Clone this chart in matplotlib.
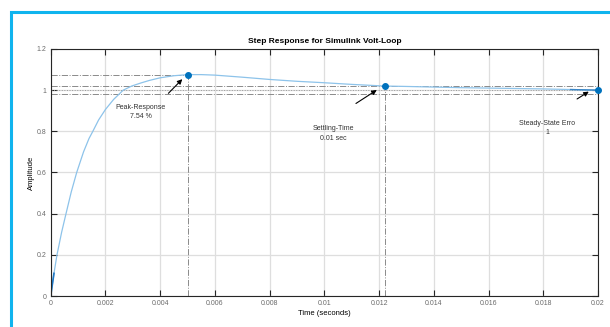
import numpy as np
import matplotlib
matplotlib.use('Agg')
import matplotlib.pyplot as plt
from matplotlib.patches import Rectangle

plt.rcParams['font.family'] = ['Liberation Sans', 'DejaVu Sans']

# step response (time in s, amplitude)
t = [0, 0.00012, 0.00023, 0.0003, 0.0004, 0.00056, 0.00075, 0.00095, 0.0012,
     0.0014, 0.00154, 0.00175, 0.002, 0.0023, 0.00265, 0.00296, 0.0033, 0.0036,
     0.004, 0.0045, 0.005, 0.0055, 0.006, 0.007, 0.008, 0.009, 0.01, 0.011,
     0.0122, 0.013, 0.014, 0.015, 0.016, 0.017, 0.018, 0.019, 0.02]
y = [0, 0.11, 0.20, 0.245, 0.31, 0.40, 0.505, 0.60, 0.70,
     0.765, 0.80, 0.855, 0.906, 0.955, 1.0, 1.02, 1.035, 1.047,
     1.06, 1.07, 1.0754, 1.0755, 1.073, 1.063, 1.052, 1.043, 1.036, 1.028,
     1.02, 1.018, 1.015, 1.012, 1.010, 1.008, 1.006, 1.003, 1.0]

peak_t, peak_y = 0.005, 1.0754
settle_t, settle_y = 0.0122, 1.02
final_t, final_y = 0.02, 1.0
band = [0.98, 1.02]

xticks = [0, 0.002, 0.004, 0.006, 0.008, 0.01, 0.012, 0.014, 0.016, 0.018, 0.02]
xticklabels = ['0', '0.002', '0.004', '0.006', '0.008', '0.01', '0.012', '0.014', '0.016', '0.018', '0.02']
yticks = [0, 0.2, 0.4, 0.6, 0.8, 1.0, 1.2]
yticklabels = ['0', '0.2', '0.4', '0.6', '0.8', '1', '1.2']

fig = plt.figure(figsize=(6.1, 3.27), dpi=100)
ax = fig.add_axes([0.0831, 0.0948, 0.8972, 0.7554])

# cyan frame of the screenshot
fig.add_artist(Rectangle((11 / 610, -0.2), 1.5, (327 - 12) / 327 + 0.2,
                         transform=fig.transFigure, fill=False,
                         edgecolor='#10b4ee', linewidth=2.2, clip_on=False))

ax.grid(True, color='#dedede', linewidth=0.9)
ax.set_axisbelow(True)

# reference lines
ref = dict(color='#8a8a8a', linewidth=0.7, linestyle='-.')
ax.plot([0, peak_t], [peak_y, peak_y], **ref)
ax.plot([peak_t, peak_t], [0, peak_y], **ref)
ax.plot([settle_t, settle_t], [0, settle_y], **ref)
for b in band:
    ax.plot([0, 0.02], [b, b], **ref)
ax.plot([0, 0.02], [1, 1], color='#9a9a9a', linewidth=0.7, linestyle=':')

# response curve
ax.plot(t, y, color='#8dc3ea', linewidth=0.9)
ax.plot(t[:2], y[:2], color='#1f77c4', linewidth=1.2)
ax.plot(t[-2:], y[-2:], color='#3a86c6', linewidth=1.0)

ax.plot([peak_t, settle_t, final_t], [peak_y, settle_y, final_y], 'o',
        color='#0072BD', markersize=4, clip_on=False, zorder=5)

akw = dict(arrowstyle='-|>', color='black', lw=0.8, mutation_scale=7)
ax.annotate('', xy=(0.00488, 1.063), xytext=(0.00423, 0.975), arrowprops=akw)
ax.annotate('', xy=(0.01200, 1.008), xytext=(0.01107, 0.928), arrowprops=akw)
ax.annotate('', xy=(0.01975, 1.0), xytext=(0.01915, 0.95), arrowprops=akw)

tkw = dict(fontsize=5, color='#333333', ha='center', va='center', linespacing=1.5)
ax.text(0.00329, 0.895, 'Peak-Response\n7.54 %', **tkw)
ax.text(0.01033, 0.79, 'Settling-Time\n0.01 sec', **tkw)
ax.text(0.01815, 0.815, 'Steady-State Erro\n1', **tkw)

ax.set_xlim(0, 0.02)
ax.set_ylim(0, 1.2)
ax.set_xticks(xticks)
ax.set_xticklabels(xticklabels)
ax.set_yticks(yticks)
ax.set_yticklabels(yticklabels)
ax.tick_params(direction='in', length=4, width=0.8, colors='#262626',
               labelcolor='#6b6b6b', labelsize=5, top=True, right=True, pad=3)
for s in ax.spines.values():
    s.set_color('#262626')
    s.set_linewidth(0.8)

ax.set_title('Step Response for Simulink Volt-Loop', fontsize=6, fontweight='bold', pad=4)
ax.set_xlabel('Time (seconds)', fontsize=5.5, labelpad=2)
ax.set_ylabel('Amplitude', fontsize=5.5, labelpad=1)

fig.savefig('out.png', dpi=100)
